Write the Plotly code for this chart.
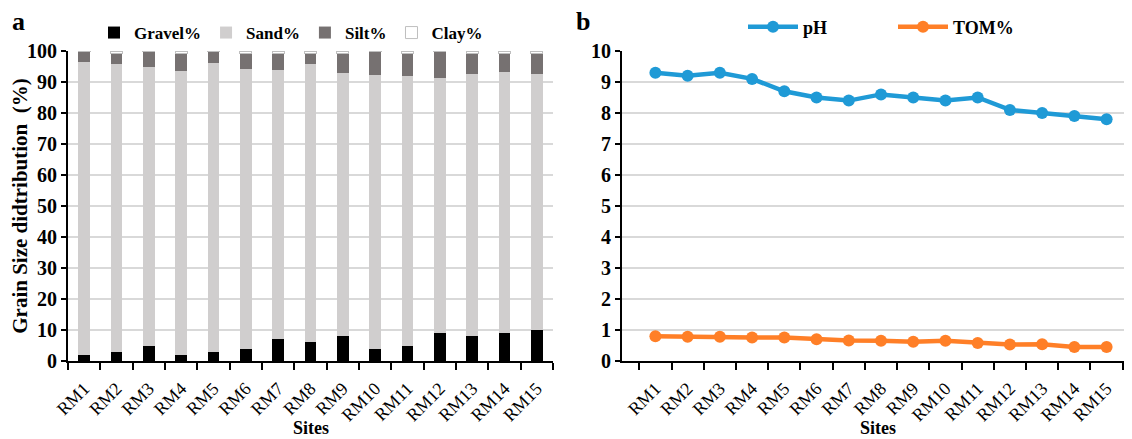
import plotly.graph_objects as go

sites = ["RM1", "RM2", "RM3", "RM4", "RM5", "RM6", "RM7", "RM8", "RM9", "RM10",
         "RM11", "RM12", "RM13", "RM14", "RM15"]
gravel = [2, 3, 5, 2, 3, 4, 7, 6, 8, 4, 5, 9, 8, 9, 10]
sand = [94.4, 92.7, 89.7, 91.5, 93.1, 90.2, 86.8, 89.7, 84.9, 88.1, 86.8, 82.4, 84.5, 84.2, 82.5]
silt = [3.3, 3.6, 5.0, 5.8, 3.6, 5.1, 5.5, 3.6, 6.4, 7.6, 7.5, 8.3, 6.8, 6.1, 6.8]
clay = [0.3, 0.7, 0.3, 0.7, 0.3, 0.7, 0.7, 0.7, 0.7, 0.3, 0.7, 0.3, 0.7, 0.7, 0.7]
ph = [9.3, 9.2, 9.3, 9.1, 8.7, 8.5, 8.4, 8.6, 8.5, 8.4, 8.5, 8.1, 8.0, 7.9, 7.8]
tom = [0.80, 0.78, 0.78, 0.76, 0.76, 0.70, 0.66, 0.65, 0.62, 0.65, 0.58, 0.53, 0.54, 0.45, 0.45]

FONT = "Liberation Serif"
W, H = 1132, 439
OFF = 8  # page body margin

fig = go.Figure()

bar_specs = [("Gravel%", gravel, "#000000", "#000000"),
             ("Sand%", sand, "#D0CECE", "#D0CECE"),
             ("Silt%", silt, "#767171", "#767171"),
             ("Clay%", clay, "#FFFFFF", "#BFBFBF")]
for name, vals, fill, line in bar_specs:
    fig.add_trace(go.Bar(x=sites, y=vals, name=name,
                         marker=dict(color=fill, line=dict(color=line, width=1 if name == "Clay%" else 0)),
                         xaxis="x", yaxis="y", legend="legend"))

fig.add_trace(go.Scatter(x=sites, y=ph, name="pH", mode="lines+markers",
                         line=dict(color="#1F9AD6", width=4.5), marker=dict(size=12, color="#1F9AD6"),
                         xaxis="x2", yaxis="y2", legend="legend2"))
fig.add_trace(go.Scatter(x=sites, y=tom, name="TOM%", mode="lines+markers",
                         line=dict(color="#FF7F27", width=4.5), marker=dict(size=12, color="#FF7F27"),
                         xaxis="x2", yaxis="y2", legend="legend2"))


def px_x(p):
    return (p - OFF) / W


def px_y(p):
    return 1 - (p - OFF) / H


ydom = [px_y(361), px_y(51)]
common_x = dict(type="category", showline=True, linecolor="black", linewidth=2, automargin=False,
                ticks="outside", tickson="boundaries", ticklen=7, tickwidth=2, tickcolor="black",
                tickangle=-45, tickfont=dict(family=FONT, size=18, color="black"), ticklabelstandoff=8,
                showgrid=False)
common_y = dict(showline=True, linecolor="black", linewidth=2, ticks="outside", ticklen=5, tickwidth=2,
                tickcolor="black", tickfont=dict(family=FONT, size=20, color="black", weight="bold"),
                showgrid=True, gridcolor="#D9D9D9", gridwidth=1.5, zeroline=False, automargin=False)

ann_font = dict(family=FONT, size=18, color="black")
fig.update_layout(
    width=W, height=H, margin=dict(l=0, r=0, t=0, b=0, autoexpand=False),
    paper_bgcolor="white", plot_bgcolor="white",
    barmode="stack", bargap=0.63,
    xaxis=dict(domain=[px_x(68), px_x(553)], anchor="y", **common_x),
    yaxis=dict(domain=ydom, anchor="x", range=[0, 100], dtick=10,
               title=dict(text="<b>Grain Size didtribution  (%)</b>", font=dict(family=FONT, size=21, color="black"), standoff=2),
               **common_y),
    xaxis2=dict(domain=[px_x(622), px_x(1140)], anchor="y2", **common_x),
    yaxis2=dict(domain=ydom, anchor="x2", range=[0, 10], dtick=1, **common_y),
    legend=dict(orientation="h", x=px_x(94), xanchor="left", y=px_y(33), yanchor="middle",
                font=dict(family=FONT, size=17, color="black", weight="bold"), traceorder="normal",
                itemwidth=30, tracegroupgap=0, bgcolor="rgba(0,0,0,0)"),
    legend2=dict(orientation="h", x=px_x(743), xanchor="left", y=px_y(27), yanchor="middle",
                 font=dict(family=FONT, size=18, color="black", weight="bold"), traceorder="normal",
                 entrywidth=85, itemwidth=50, bgcolor="rgba(0,0,0,0)"),
    annotations=[
        dict(text="<b>a</b>", x=px_x(10), y=px_y(22), xref="paper", yref="paper", showarrow=False,
             xanchor="left", yanchor="middle", font=dict(family=FONT, size=26, color="black")),
        dict(text="<b>b</b>", x=px_x(574), y=px_y(22), xref="paper", yref="paper", showarrow=False,
             xanchor="left", yanchor="middle", font=dict(family=FONT, size=26, color="black")),
        dict(text="<b>Sites</b>", x=px_x(311), y=px_y(428), xref="paper", yref="paper", showarrow=False,
             xanchor="center", yanchor="middle", font=ann_font),
        dict(text="<b>Sites</b>", x=px_x(878), y=px_y(428), xref="paper", yref="paper", showarrow=False,
             xanchor="center", yanchor="middle", font=ann_font),
    ],
)

fig.write_html("out.html")
